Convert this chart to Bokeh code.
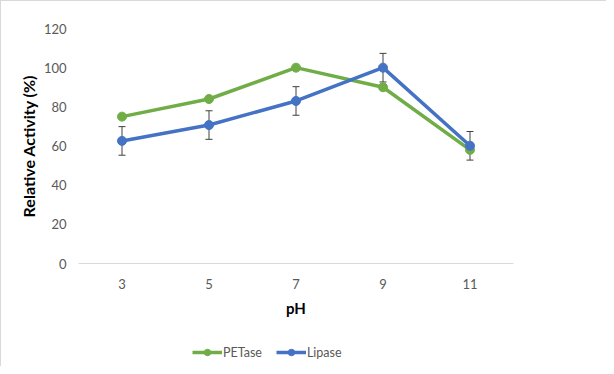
from bokeh.plotting import figure
from bokeh.layouts import column
from bokeh.models import ColumnDataSource, FactorRange, Range1d, Whisker, TeeHead, Legend, LegendItem, FixedTicker
from bokeh.embed import file_html
from bokeh.resources import INLINE

ph = ["3", "5", "7", "9", "11"]
petase = [75, 84, 100, 90, 58]
lipase = [62.6, 70.7, 83.0, 100, 60.1]
lipase_err = [7.3, 7.3, 7.3, 7.3, 7.3]
y_ticks = [0, 20, 40, 60, 80, 100, 120]

GREEN = "#70AD47"
BLUE = "#4472C4"
FONT = "Lato"
BORDER = {"border-left": "1px solid #D9D9D9"}

src = ColumnDataSource(dict(
    x=ph, pet=petase, lip=lipase,
    up=[v + e for v, e in zip(lipase, lipase_err)],
    lo=[v - e for v, e in zip(lipase, lipase_err)],
))

p = figure(width=606, height=326, x_range=FactorRange(*ph, range_padding=0),
           y_range=Range1d(0, 120), output_backend="svg", toolbar_location=None,
           min_border_left=77, min_border_right=94, min_border_top=27, min_border_bottom=64)
p.outline_line_color = None
p.grid.visible = False
p.styles = {"border-left": "1px solid #D9D9D9", "border-top": "1px solid #D9D9D9"}

l1 = p.line("x", "pet", source=src, line_color=GREEN, line_width=3.5)
m1 = p.scatter("x", "pet", source=src, size=9, fill_color=GREEN, line_color=GREEN)

wh = Whisker(source=src, base="x", upper="up", lower="lo", line_color="#404040", line_width=1,
             upper_head=TeeHead(size=7, line_color="#404040", line_width=1),
             lower_head=TeeHead(size=7, line_color="#404040", line_width=1))
p.add_layout(wh)

l2 = p.line("x", "lip", source=src, line_color=BLUE, line_width=3.5)
m2 = p.scatter("x", "lip", source=src, size=9, fill_color=BLUE, line_color=BLUE)

# axes
p.yaxis.ticker = FixedTicker(ticks=y_ticks)
p.yaxis.axis_line_color = None
p.yaxis.major_tick_line_color = None
p.yaxis.minor_tick_line_color = None
p.yaxis.major_label_standoff = 6
p.yaxis.axis_label = "Relative Activity (%)"
p.yaxis.axis_label_standoff = 3

p.xaxis.axis_line_color = "#D9D9D9"
p.xaxis.axis_line_width = 1
p.xaxis.major_tick_line_color = None
p.xaxis.minor_tick_line_color = None
p.xaxis.major_label_standoff = 9
p.xaxis.axis_label = "pH"
p.xaxis.axis_label_standoff = 7

for ax in (p.xaxis, p.yaxis):
    ax.major_label_text_font = FONT
    ax.major_label_text_font_size = "13px"
    ax.major_label_text_color = "#595959"
    ax.axis_label_text_font = FONT
    ax.axis_label_text_font_style = "bold"
    ax.axis_label_text_color = "#000000"
p.yaxis.axis_label_text_font_size = "16px"
p.xaxis.axis_label_text_font_size = "15px"

# legend strip below the chart (same series, drawn off-range so only the legend shows)
lg = figure(width=606, height=40, x_range=FactorRange(*ph), y_range=Range1d(1000, 1001),
            output_backend="svg", toolbar_location=None, x_axis_type=None, y_axis_type=None,
            min_border_left=0, min_border_right=0, min_border_top=0, min_border_bottom=0)
lg.outline_line_color = None
lg.grid.visible = False
lg.styles = BORDER
g1 = lg.line("x", "pet", source=src, line_color=GREEN, line_width=3.5)
s1 = lg.scatter("x", "pet", source=src, size=9, fill_color=GREEN, line_color=GREEN)
g2 = lg.line("x", "lip", source=src, line_color=BLUE, line_width=3.5)
s2 = lg.scatter("x", "lip", source=src, size=9, fill_color=BLUE, line_color=BLUE)

legend = Legend(items=[LegendItem(label="PETase", renderers=[g1, s1]),
                       LegendItem(label="Lipase", renderers=[g2, s2])],
                orientation="horizontal", location=(114, 6),
                glyph_width=30, glyph_height=16, label_standoff=1, spacing=14,
                padding=0, margin=0, border_line_color=None, background_fill_alpha=0,
                label_text_font=FONT, label_text_font_size="12.5px", label_text_color="#595959")
lg.add_layout(legend, "center")

layout = column(p, lg, spacing=0)
open("out.html", "w").write(file_html(layout, INLINE))
